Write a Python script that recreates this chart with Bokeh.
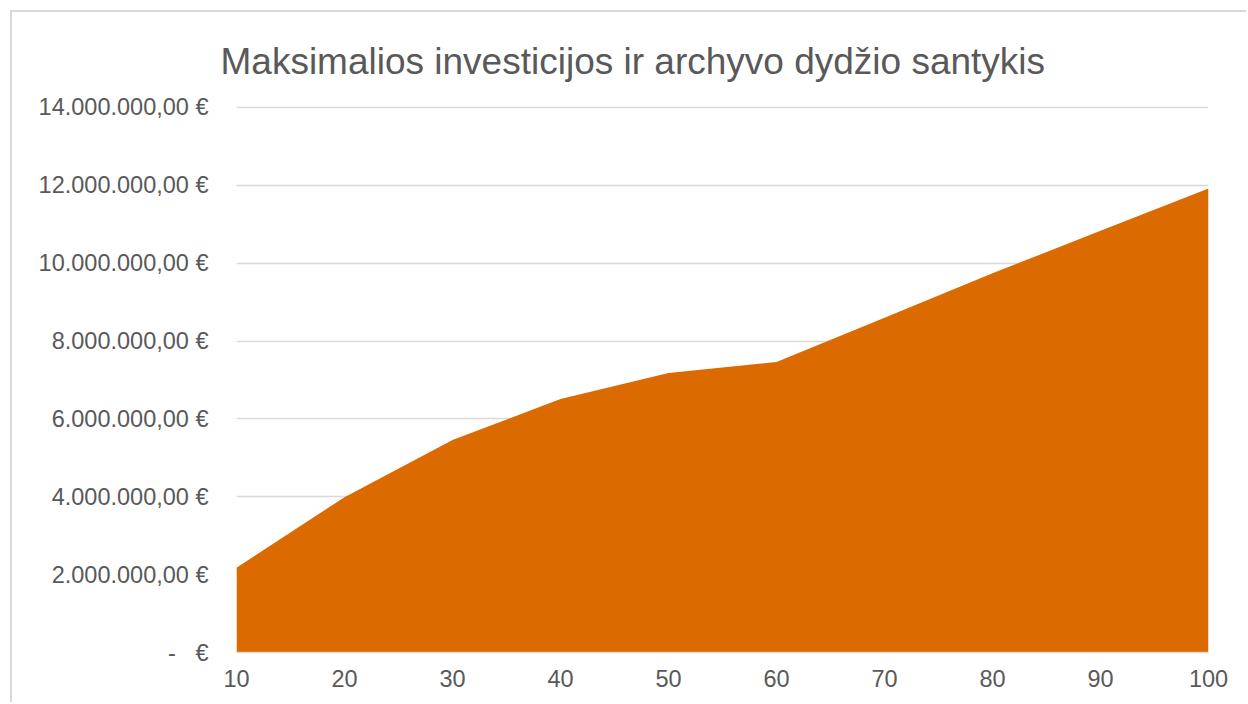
from bokeh.plotting import figure
from bokeh.models import FixedTicker, Range1d, Title
from bokeh.embed import file_html
from bokeh.resources import INLINE

# ---- data ----
archive_size = [10, 20, 30, 40, 50, 60, 70, 80, 90, 100]
max_investment = [2180000, 3990000, 5460000, 6510000, 7180000,
                  7460000, 8600000, 9740000, 10830000, 11920000]
y_ticks = [0, 2000000, 4000000, 6000000, 8000000, 10000000, 12000000, 14000000]
y_tick_labels = ["-\u00a0\u00a0\u00a0\u20ac",
                 "2.000.000,00\u00a0\u20ac", "4.000.000,00\u00a0\u20ac",
                 "6.000.000,00\u00a0\u20ac", "8.000.000,00\u00a0\u20ac",
                 "10.000.000,00\u00a0\u20ac", "12.000.000,00\u00a0\u20ac",
                 "14.000.000,00\u00a0\u20ac"]
x_ticks = archive_size
title_text = "Maksimalios investicijos ir archyvo dydžio santykis"

FONT = "Liberation Sans"
TXT = "#595959"

p = figure(width=1236, height=692, output_backend="svg", toolbar_location=None,
           x_range=Range1d(10, 100), y_range=Range1d(0, 14050000),
           min_border_left=224, min_border_right=40,
           min_border_top=93, min_border_bottom=52)
p.styles = {"margin-left": "10px", "margin-top": "10px",
            "border-left": "2px solid #d9d9d9", "border-top": "2px solid #d9d9d9"}
p.outline_line_color = None
p.background_fill_color = "white"
p.border_fill_color = "white"

p.varea(x=archive_size, y1=0, y2=max_investment, fill_color="#db6a00")

p.xgrid.grid_line_color = None
p.ygrid.grid_line_color = "#d9d9d9"
p.ygrid.grid_line_width = 1.5
p.ygrid.ticker = FixedTicker(ticks=y_ticks)

p.yaxis.ticker = FixedTicker(ticks=y_ticks)
p.yaxis.major_label_overrides = {t: l for t, l in zip(y_ticks, y_tick_labels)}
p.yaxis.axis_line_color = None
p.yaxis.major_tick_line_color = None
p.yaxis.minor_tick_line_color = None
p.yaxis.major_tick_out = 0
p.yaxis.major_label_standoff = 28
p.yaxis.major_label_text_font = FONT
p.yaxis.major_label_text_font_size = "23.5px"
p.yaxis.major_label_text_color = TXT

p.xaxis.ticker = FixedTicker(ticks=x_ticks)
p.xaxis.axis_line_color = "#d9d9d9"
p.xaxis.axis_line_width = 1.5
p.xaxis.major_tick_line_color = None
p.xaxis.minor_tick_line_color = None
p.xaxis.major_tick_out = 0
p.xaxis.major_label_standoff = 17
p.xaxis.major_label_text_font = FONT
p.xaxis.major_label_text_font_size = "23.5px"
p.xaxis.major_label_text_color = TXT

p.title = Title(text=title_text, align="left", offset=-16, standoff=48,
                text_font=FONT, text_font_size="37px", text_color=TXT,
                text_font_style="normal")

open("out.html", "w").write(file_html(p, INLINE))
